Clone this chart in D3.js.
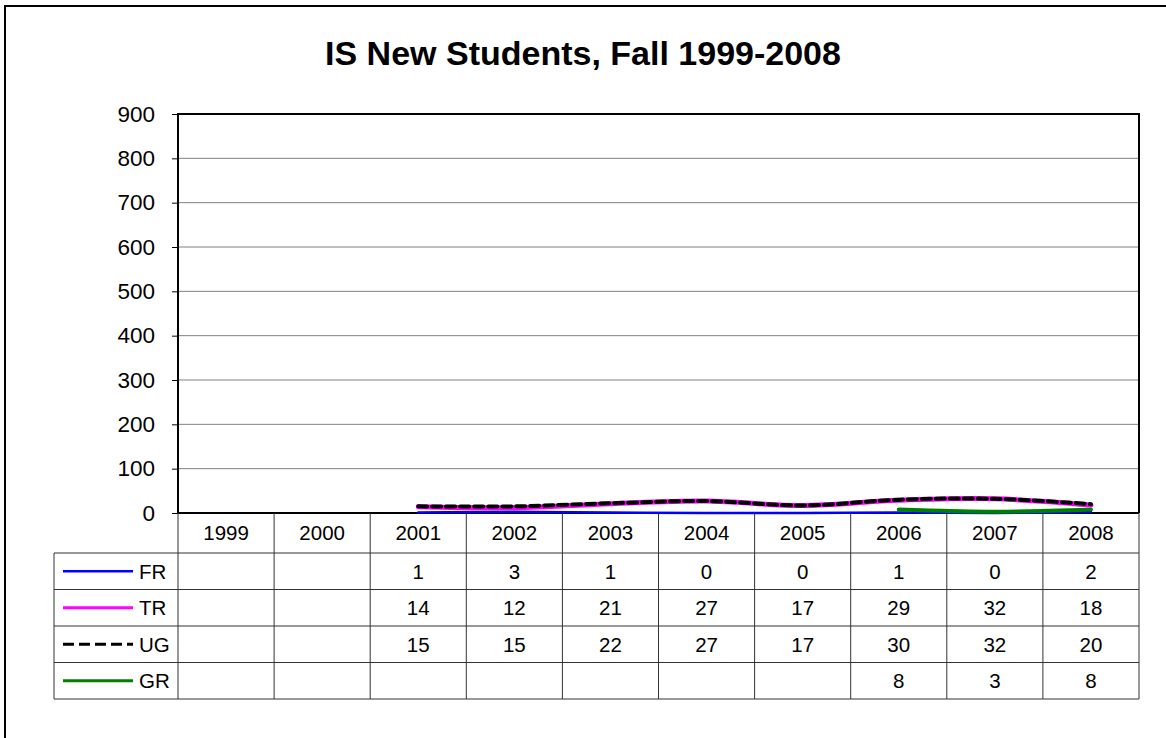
<!DOCTYPE html>
<html>
<head>
<meta charset="utf-8">
<script src="https://cdn.jsdelivr.net/npm/d3@7"></script>
<style>
body { margin: 0; background: #fff; }
text { font-family: Arial, "Liberation Sans", sans-serif; }
</style>
</head>
<body>
<script>
// data
var years = ["1999","2000","2001","2002","2003","2004","2005","2006","2007","2008"];
var yTicks = [0,100,200,300,400,500,600,700,800,900];
var seriesNames = ["FR","TR","UG","GR"];
var fr = [null,null,1,3,1,0,0,1,0,2];
var tr = [null,null,14,12,21,27,17,29,32,18];
var ug = [null,null,15,15,22,27,17,30,32,20];
var gr = [null,null,null,null,null,null,null,8,3,8];

var width = 1166, height = 738;
var svg = d3.select("body").append("svg").attr("width",width).attr("height",height);

svg.append("rect").attr("x",5).attr("y",6).attr("width",1170).attr("height",740)
	.attr("fill","white").attr("stroke","black").attr("stroke-width",2);

svg.append("text").attr("x",583).attr("y",65).attr("text-anchor","middle")
	.style("font-size","34px").style("font-weight","bold").text("IS New Students, Fall 1999-2008");

var plotL = 178, plotR = 1139, plotT = 114, plotB = 513;
var x = d3.scaleBand().domain(years).range([plotL,plotR]);
var y = d3.scaleLinear().domain([0,900]).range([plotB,plotT]);

// gridlines
svg.append("g").selectAll("line").data(yTicks.slice(1)).enter().append("line")
	.attr("x1",plotL).attr("x2",plotR).attr("y1",function(d){return y(d);}).attr("y2",function(d){return y(d);})
	.attr("stroke","#808080").attr("stroke-width",1);

// y axis
var yAxis = svg.append("g").attr("transform","translate("+plotL+",0)")
	.call(d3.axisLeft(y).tickValues(yTicks).tickSize(6).tickPadding(17));
yAxis.select(".domain").remove();
yAxis.selectAll("line").attr("stroke","black");
yAxis.selectAll("text").style("font-size","22.5px").attr("fill","black").attr("font-family","Arial, 'Liberation Sans', sans-serif");

// plot border
svg.append("path").attr("d","M"+plotL+","+plotB+"V"+plotT+"H"+plotR+"V"+plotB)
	.attr("fill","none").attr("stroke","black").attr("stroke-width",2);

// table
var rowH = [40,36.5,36.5,36.5,36.5];
var tableLeft = 54;
var rowY = [plotB];
for (var i=0;i<rowH.length;i++) rowY.push(rowY[i]+rowH[i]);
var tbl = svg.append("g");
// horizontal lines
rowY.forEach(function(ry,i){
	tbl.append("line").attr("x1", i==0 ? plotL : tableLeft).attr("x2",plotR)
		.attr("y1",ry).attr("y2",ry).attr("stroke", i==0 ? "black" : "#333").attr("stroke-width", i==0 ? 2 : 1);
});
// vertical lines
var vx = years.map(function(d){return x(d);}).concat([plotR]);
vx.forEach(function(v){
	tbl.append("line").attr("x1",v).attr("x2",v).attr("y1",plotB).attr("y2",rowY[rowY.length-1])
		.attr("stroke","#333").attr("stroke-width",1);
});
tbl.append("line").attr("x1",tableLeft).attr("x2",tableLeft).attr("y1",rowY[1]).attr("y2",rowY[rowY.length-1])
	.attr("stroke","#333").attr("stroke-width",1);

tbl.selectAll("text.yr").data(years).enter().append("text").attr("class","yr")
	.attr("x",function(d){return x(d)+x.bandwidth()/2;}).attr("y",(rowY[0]+rowY[1])/2)
	.attr("dy","0.36em").attr("text-anchor","middle").style("font-size","20.5px").text(function(d){return d;});

var allSeries = [
	{name:"FR", vals:fr, color:"#0000ff", w:2.5, dash:null, legDash:null},
	{name:"TR", vals:tr, color:"#ff00ff", w:5, dash:null, legDash:null},
	{name:"UG", vals:ug, color:"#000000", w:4, dash:"9,5", legDash:"11,5"},
	{name:"GR", vals:gr, color:"#008000", w:4, dash:null, legDash:null}
];

allSeries.forEach(function(s,si){
	var cy = (rowY[si+1]+rowY[si+2])/2;
	tbl.append("line").attr("x1",63).attr("x2",133).attr("y1",cy).attr("y2",cy)
		.attr("stroke",s.color).attr("stroke-width",s.w==2.5?2.5:3).attr("stroke-dasharray",s.legDash);
	tbl.append("text").attr("x",139).attr("y",cy).attr("dy","0.36em").style("font-size","20.5px").text(s.name);
	years.forEach(function(yr,i){
		if (s.vals[i] === null) return;
		tbl.append("text").attr("x",x(yr)+x.bandwidth()/2).attr("y",cy).attr("dy","0.36em")
			.attr("text-anchor","middle").style("font-size","20.5px").text(s.vals[i]);
	});
});

// lines
var line = d3.line()
	.defined(function(d){return d.v !== null;})
	.x(function(d){return x(d.yr)+x.bandwidth()/2;})
	.y(function(d){return y(d.v);})
	.curve(d3.curveCardinal.tension(0));

var drawOrder = [0,3,1,2];
drawOrder.forEach(function(k){
	var s = allSeries[k];
	var pts = years.map(function(yr,i){return {yr:yr, v:s.vals[i]};});
	svg.append("path").datum(pts).attr("d",line).attr("fill","none")
		.attr("stroke",s.color).attr("stroke-width",s.w).attr("stroke-dasharray",s.dash)
		.attr("stroke-linecap","round");
});
</script>
</body>
</html>
